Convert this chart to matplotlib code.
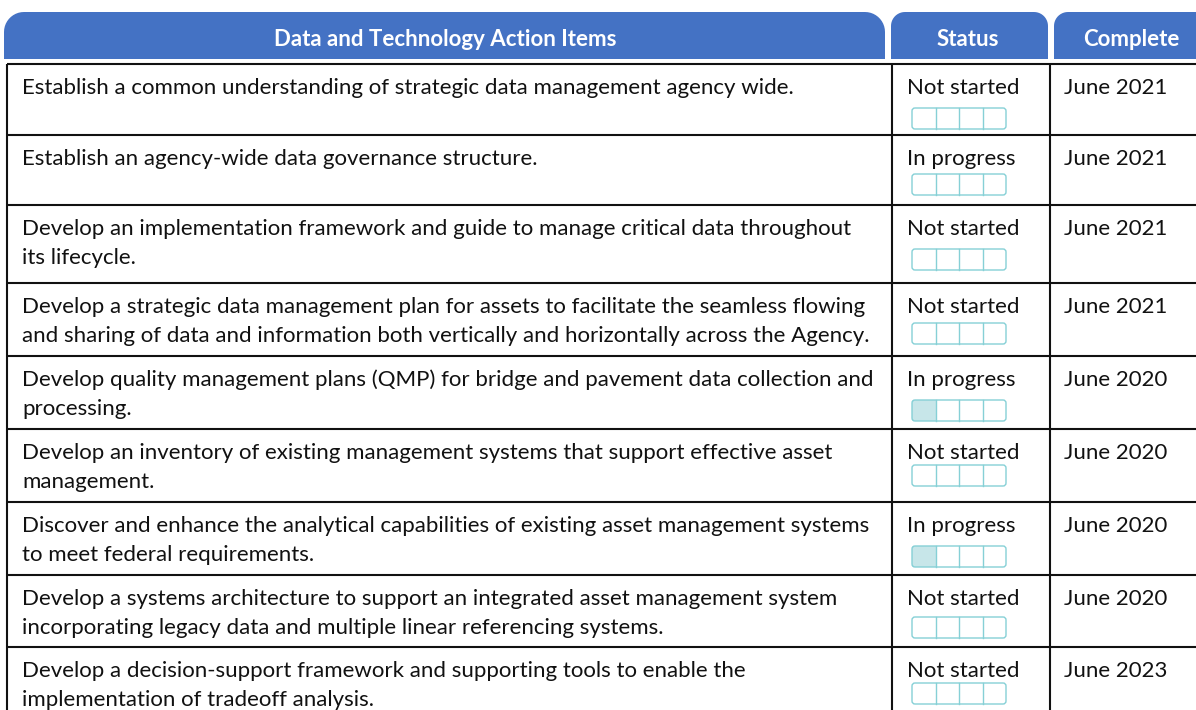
"""
Data and Technology Action Items - status table
"""

import matplotlib
matplotlib.use("Agg")
import matplotlib.pyplot as plt
import numpy as np
from matplotlib.patches import FancyBboxPatch, PathPatch, Rectangle
from matplotlib.path import Path

plt.rcParams["font.family"] = ["Lato", "DejaVu Sans"]

# ---------------------------------------------------------------------------
# Data
# ---------------------------------------------------------------------------

HEADERS = ["Data and Technology Action Items", "Status", "Complete"]

ACTION_ITEMS = [
    "Establish a common understanding of strategic data management agency wide.",
    "Establish an agency-wide data governance structure.",
    "Develop an implementation framework and guide to manage critical data throughout\nits lifecycle.",
    "Develop a strategic data management plan for assets to facilitate the seamless flowing\n"
    "and sharing of data and information both vertically and horizontally across the Agency.",
    "Develop quality management plans (QMP) for bridge and pavement data collection and\nprocessing.",
    "Develop an inventory of existing management systems that support effective asset\nmanagement.",
    "Discover and enhance the analytical capabilities of existing asset management systems\n"
    "to meet federal requirements.",
    "Develop a systems architecture to support an integrated asset management system\n"
    "incorporating legacy data and multiple linear referencing systems.",
    "Develop a decision-support framework and supporting tools to enable the\n"
    "implementation of tradeoff analysis.",
]

STATUS = ["Not started", "In progress", "Not started", "Not started", "In progress",
          "Not started", "In progress", "Not started", "Not started"]

# filled segments of the 4-step progress bar
PROGRESS = [0, 0, 0, 0, 1, 0, 1, 0, 0]

COMPLETE = ["June 2021", "June 2021", "June 2021", "June 2021", "June 2020",
            "June 2020", "June 2020", "June 2020", "June 2023"]

# ---------------------------------------------------------------------------
# Layout (pixels)
# ---------------------------------------------------------------------------

W, H = 1196, 710
ROW_EDGES = [64, 135, 205, 283, 356, 429, 502, 575, 647, 730]
BAR_TOPS = [108, 174, 249, 323, 400, 465, 546, 617, 683]
COL_X = [7, 892, 1050]
HEADER_SPANS = [(4, 885, 20), (891, 1048, 14), (1054, 1210, 14)]
HEADER_CENTERS = [445, 968, 1131]
HEADER_TOP, HEADER_BOTTOM = 12, 59

BLUE = "#4472C4"
TEAL_EDGE = "#86D0D6"
TEAL_FILL = "#C7E6E9"
TEXT = "#111111"
FONT_SIZE = 16.0
LINE_STEP = 29


def top_rounded_path(x0, x1, y_top, y_bot, r, n=12):
    """Rectangle with rounded top corners (y axis points down)."""
    verts = [(x0, y_bot), (x0, y_top + r)]
    for t in np.linspace(np.pi, 1.5 * np.pi, n):
        verts.append((x0 + r + r * np.cos(t), y_top + r + r * np.sin(t)))
    for t in np.linspace(1.5 * np.pi, 2 * np.pi, n):
        verts.append((x1 - r + r * np.cos(t), y_top + r + r * np.sin(t)))
    verts.append((x1, y_bot))
    verts.append((x0, y_bot))
    codes = [Path.MOVETO] + [Path.LINETO] * (len(verts) - 2) + [Path.CLOSEPOLY]
    return Path(verts, codes)


def main():
    fig = plt.figure(figsize=(W / 100, H / 100), dpi=100)
    ax = fig.add_axes([0, 0, 1, 1])
    ax.set_xlim(0, W)
    ax.set_ylim(H, 0)
    ax.axis("off")

    # header tabs
    for (x0, x1, r), cx, label in zip(HEADER_SPANS, HEADER_CENTERS, HEADERS):
        ax.add_patch(PathPatch(top_rounded_path(x0, x1, HEADER_TOP, HEADER_BOTTOM, r),
                               facecolor=BLUE, edgecolor="none"))
        ax.text(cx, 39, label, color="white", fontsize=FONT_SIZE, fontweight="bold",
                ha="center", va="center")

    # grid lines
    lw = 1.5
    for y in ROW_EDGES[:-1]:
        ax.plot([COL_X[0], W + 5], [y, y], color=TEXT, lw=lw, solid_capstyle="butt")
    for x in COL_X:
        ax.plot([x, x], [ROW_EDGES[0], H + 5], color=TEXT, lw=lw, solid_capstyle="butt")

    # rows
    for i, (item, status, done, filled) in enumerate(zip(ACTION_ITEMS, STATUS, COMPLETE, PROGRESS)):
        y = ROW_EDGES[i] + 22
        for j, line in enumerate(item.split("\n")):
            ax.text(22, y + j * LINE_STEP, line, fontsize=FONT_SIZE, color=TEXT,
                    ha="left", va="center_baseline")
        ax.text(907, y, status, fontsize=FONT_SIZE, color=TEXT, ha="left", va="center_baseline")
        ax.text(1064, y, done, fontsize=FONT_SIZE, color=TEXT, ha="left", va="center_baseline")

        # progress bar
        bx, bw, bh = 912, 94, 21
        by = BAR_TOPS[i]
        seg = bw / 4
        for k in range(filled):
            ax.add_patch(Rectangle((bx + k * seg, by), seg, bh, facecolor=TEAL_FILL,
                                   edgecolor="none"))
        for k in range(1, 4):
            ax.plot([bx + k * seg] * 2, [by, by + bh], color=TEAL_EDGE, lw=1.0)
        ax.add_patch(FancyBboxPatch((bx, by), bw, bh, boxstyle="round,pad=0,rounding_size=3",
                                    facecolor="none", edgecolor=TEAL_EDGE, lw=1.0))

    fig.savefig("out.png", dpi=100)
    plt.close(fig)


if __name__ == "__main__":
    main()
